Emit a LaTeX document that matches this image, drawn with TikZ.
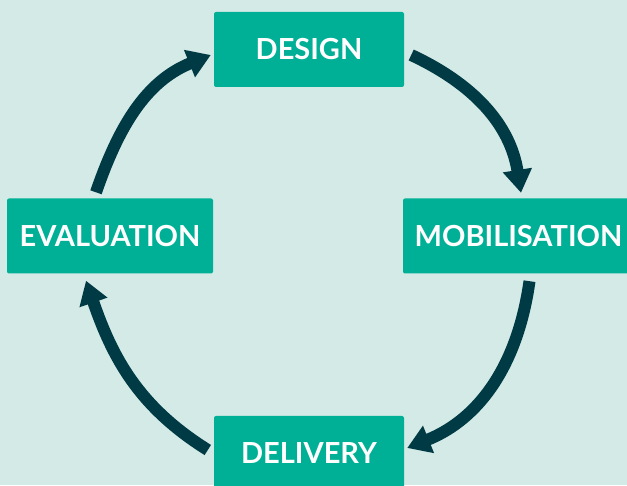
\documentclass[tikz,border=0pt]{standalone}
\usepackage{fontspec}
\setmainfont{Lato}
\usetikzlibrary{arrows.meta}
\definecolor{bgmint}{HTML}{D3EAE6}
\definecolor{boxteal}{HTML}{00B096}
\definecolor{arrowdark}{HTML}{003A44}

\begin{document}
\begin{tikzpicture}[x=1pt, y=1pt,
		stage/.style={fill=boxteal, rounded corners=2pt, minimum height=75pt, minimum width=190pt,
			inner sep=0pt, text=white, font=\fontsize{29}{30}\selectfont\bfseries},
		cycle/.style={draw=arrowdark, line width=12pt, line cap=butt,
			-{Triangle[length=23pt, width=28pt]}}]
			%%%%% START %%%%%
			
			\fill[bgmint] (0, 0) rectangle (627, 485);
			\useasboundingbox (0, 0) rectangle (627, 485);
			
			\node[stage] (design) at (309, 435.5) {DESIGN};
			\node[stage, minimum width=206pt] (evaluation) at (110, 249) {EVALUATION};
			\node[stage, minimum width=231pt] (mobilisation) at (518.5, 249) {MOBILISATION};
			\node[stage] (delivery) at (309, 31.5) {DELIVERY};
			
			\draw[cycle] ([xshift=7pt, yshift=-5.5pt]design.east) to[out=-25, in=99]
				([xshift=2.5pt, yshift=5.5pt]mobilisation.north);
			\draw[cycle] ([xshift=11pt, yshift=-7.5pt]mobilisation.south) to[out=-98, in=22]
				([xshift=3pt, yshift=5.5pt]delivery.east);
			\draw[cycle] ([xshift=-6pt, yshift=3.5pt]delivery.west) to[out=148, in=-71]
				([xshift=-24pt, yshift=-7pt]evaluation.south);
			\draw[cycle] ([xshift=-14pt, yshift=6pt]evaluation.north) to[out=71, in=-158]
				([xshift=-3pt, yshift=-5.5pt]design.west);
			
			%%%%% END %%%%%
\end{tikzpicture}
\end{document}
